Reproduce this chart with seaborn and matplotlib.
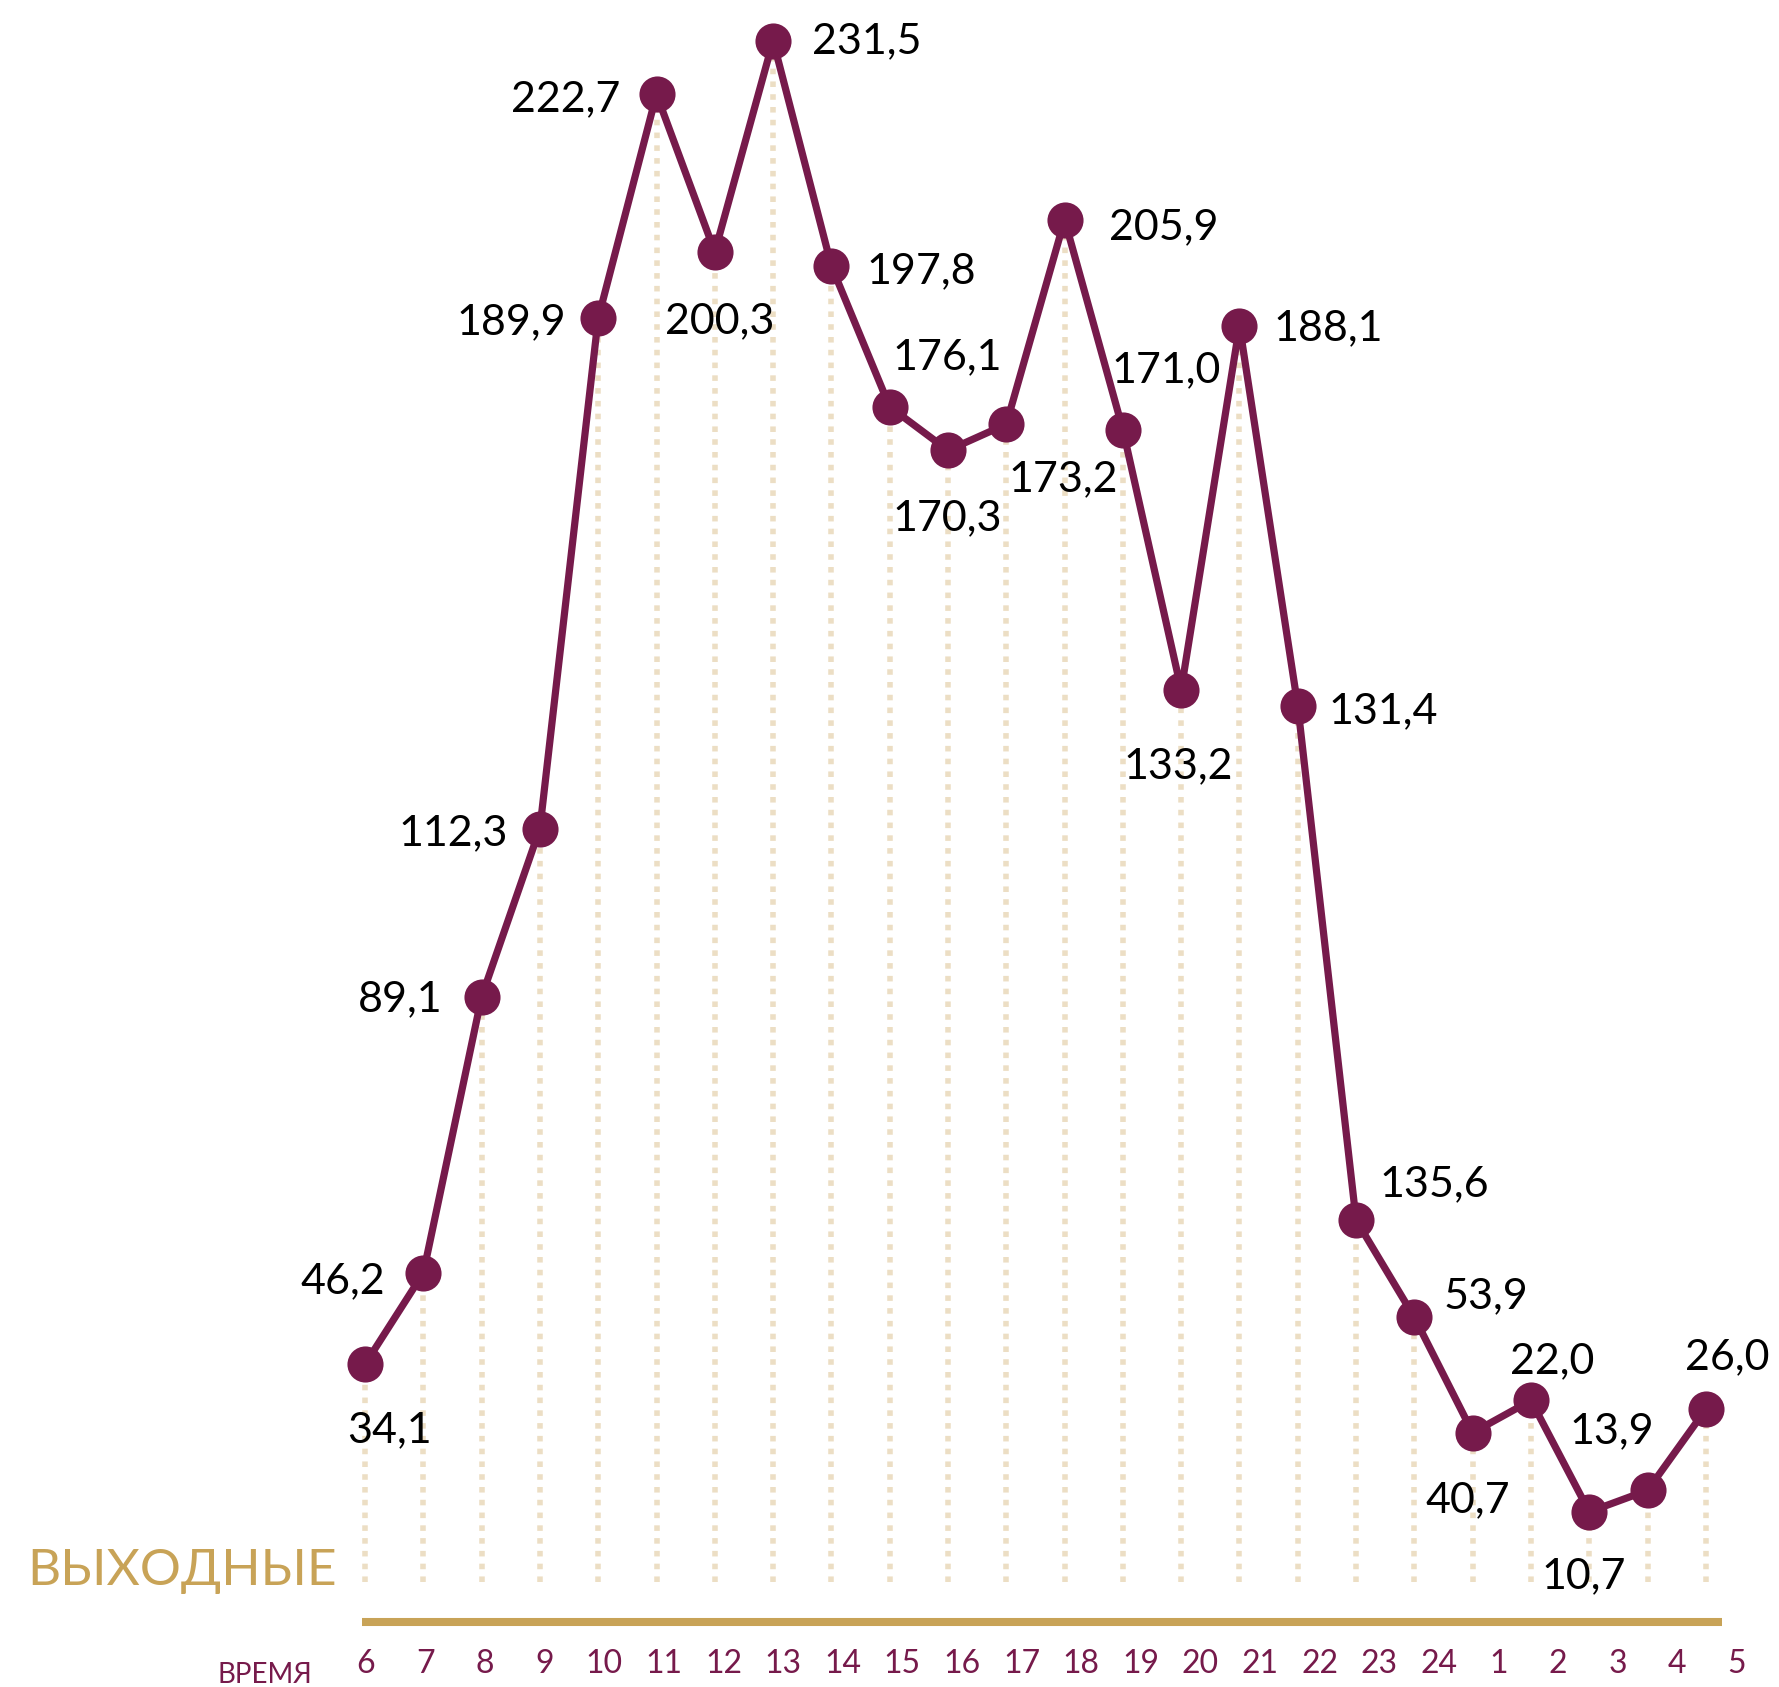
import numpy as np
import pandas as pd
import matplotlib.pyplot as plt
import seaborn as sns

# hours of the day (weekend), plotted heights and printed labels
hours = ['6', '7', '8', '9', '10', '11', '12', '13', '14', '15', '16', '17',
         '18', '19', '20', '21', '22', '23', '24', '1', '2', '3', '4', '5']
values = [34.1, 47.7, 88.9, 114.0, 190.1, 223.5, 200.0, 231.5, 197.9, 176.9, 170.4, 174.3,
          204.8, 173.5, 134.7, 189.0, 132.3, 55.6, 41.1, 23.9, 28.7, 12.1, 15.3, 27.4]
labels = ['34,1', '46,2', '89,1', '112,3', '189,9', '222,7', '200,3', '231,5', '197,8', '176,1',
          '170,3', '173,2', '205,9', '171,0', '133,2', '188,1', '131,4', '135,6', '53,9', '40,7',
          '22,0', '10,7', '13,9', '26,0']

# label placement: (ha, dx px, dy px) relative to the point, dy = centre of digits
label_pos = [('center', 24, -62), ('right', -38, -4), ('right', -39, 2), ('right', -32, -1),
             ('right', -32, 0), ('right', -36, -1), ('center', 5, -65), ('left', 39, 3),
             ('left', 35, -1), ('center', 58, 54), ('center', -1, -64), ('center', 57, -51),
             ('left', 44, -3), ('center', 43, 63), ('center', -3, -72), ('left', 34, 1),
             ('left', 31, -1), ('left', 23, 40), ('left', 29, 25), ('center', -5, -64),
             ('center', 21, 43), ('center', -6, -60), ('center', -36, 63), ('center', 21, 56)]

maroon = '#761a4b'
gold = '#c8a357'
beige = '#ecdec4'

df = pd.DataFrame({'pos': np.arange(len(values)), 'value': values})

sns.set_style('white')
plt.rcParams['font.family'] = ['Lato', 'DejaVu Sans']

fig = plt.figure(figsize=(17.79, 16.87), dpi=100)
ax = fig.add_axes([0, 0, 1, 1])

# dotted drop lines
ax.vlines(df['pos'], 1.6, df['value'], colors=beige, lw=4,
          linestyles=(0, (1, 1.3)), zorder=1)

sns.lineplot(data=df, x='pos', y='value', color=maroon, lw=5.2, marker='o',
             markersize=26, markeredgewidth=0, ax=ax, zorder=3)

for i, (txt, (ha, dx, dy)) in enumerate(zip(labels, label_pos)):
    ax.annotate(txt, (i, values[i]), xytext=(dx, dy - 16), textcoords='offset pixels',
                ha=ha, va='baseline', fontsize=31, color='black', zorder=4)

# gold base line
ax.plot([-0.05, 23.28], [-4.34, -4.34], color=gold, lw=5.8, solid_capstyle='butt')

# hour labels
tick_x = (1 + np.arange(len(hours)) * 59.6) / 58.3
for x, h in zip(tick_x, hours):
    ax.text(x, -12.0, h, ha='center', va='baseline', fontsize=23, color=maroon)

ax.text(-0.91, -13.44, 'ВРЕМЯ', ha='right', va='baseline', fontsize=20, color=maroon)
ax.text(-5.8, 1.18, 'ВЫХОДНЫЕ', ha='left', va='baseline', fontsize=37, color=gold)

ax.set_xlim(-6.261, 24.254)
ax.set_ylim(-14.03, 237.57)
ax.axis('off')

plt.savefig('out.png', dpi=100)
